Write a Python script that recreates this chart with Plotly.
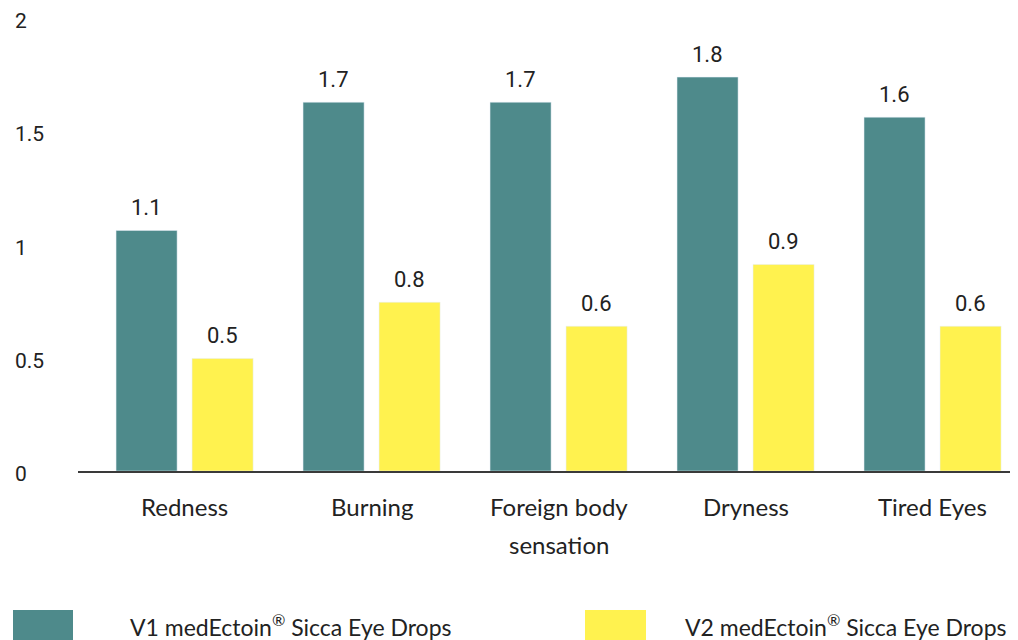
import plotly.graph_objects as go

# data
categories = ["Redness", "Burning", "Foreign body sensation", "Dryness", "Tired Eyes"]
category_lines = [["Redness"], ["Burning"], ["Foreign body", "sensation"], ["Dryness"], ["Tired Eyes"]]
v1_values = [1.062, 1.628, 1.628, 1.739, 1.562]
v2_values = [0.497, 0.745, 0.639, 0.912, 0.639]
v1_labels = ["1.1", "1.7", "1.7", "1.8", "1.6"]
v2_labels = ["0.5", "0.8", "0.6", "0.9", "0.6"]
y_ticks = [0, 0.5, 1, 1.5, 2]
y_tick_labels = ["0", "0.5", "1", "1.5", "2"]
series_names = [
    "V1 medEctoin<sup>®</sup> Sicca Eye Drops",
    "V2 medEctoin<sup>®</sup> Sicca Eye Drops",
]

TEAL = "#4e8a8b"
YELLOW = "#fff24f"
TEXT = "#222222"
NUM_FONT = "Roboto"
WORD_FONT = "Lato"

# the page body has an 8px margin, so the figure is drawn 8px smaller
OFF = 8
W, H = 1018 - OFF, 640 - OFF
L, T, B = 70, 10, 169
PW = W - L
PH = H - T - B


def px_x(p):
    # p is a pixel position in the browser window
    return (p - OFF - L) / PW


def px_y(p):
    return (H - B - (p - OFF)) / PH


fig = go.Figure()
fig.add_trace(go.Bar(x=categories, y=v1_values, marker_color=TEAL, name="V1", hoverinfo="skip"))
fig.add_trace(go.Bar(x=categories, y=v2_values, marker_color=YELLOW, name="V2", hoverinfo="skip"))

annotations = []
shift = 38
for vals, labels, dx in [(v1_values, v1_labels, -shift), (v2_values, v2_labels, shift)]:
    for cat, v, lab in zip(categories, vals, labels):
        annotations.append(dict(
            x=cat, y=v, xref="x", yref="y", text=lab, showarrow=False,
            xshift=dx, yshift=23, yanchor="middle",
            font=dict(family=NUM_FONT, size=22, color=TEXT),
        ))

for val, lab in zip(y_ticks, y_tick_labels):
    annotations.append(dict(
        x=px_x(13), y=val, xref="paper", yref="y", text=lab, showarrow=False,
        xanchor="left", yanchor="middle", yshift=-3,
        font=dict(family=NUM_FONT, size=21, color=TEXT),
    ))

for cat, lines in zip(categories, category_lines):
    for i, line in enumerate(lines):
        annotations.append(dict(
            x=cat, y=px_y(506 + 38 * i), xref="x", yref="paper", text=line,
            showarrow=False, xanchor="center", yanchor="middle",
            font=dict(family=WORD_FONT, size=24, color=TEXT),
        ))

# legend drawn by hand
shapes = []
for (x0, x1, tx), color, name in zip([(13, 73, 128), (585, 646, 683)], [TEAL, YELLOW], series_names):
    shapes.append(dict(
        type="rect", xref="paper", yref="paper",
        x0=px_x(x0), x1=px_x(x1), y0=px_y(642), y1=px_y(610),
        fillcolor=color, line_width=0,
    ))
    annotations.append(dict(
        x=px_x(tx), y=px_y(625), xref="paper", yref="paper", text=name,
        showarrow=False, xanchor="left", yanchor="middle",
        font=dict(family=WORD_FONT, size=23, color=TEXT),
    ))

fig.update_layout(
    width=W, height=H,
    margin=dict(l=L, r=0, t=T, b=B),
    paper_bgcolor="white", plot_bgcolor="white",
    barmode="group", bargap=0.187, bargroupgap=0.197,
    showlegend=False,
    annotations=annotations, shapes=shapes,
)
fig.update_xaxes(
    range=[-0.57, 4.457], showticklabels=False, showgrid=False,
    showline=True, linecolor="#3a3a3a", linewidth=1.5, ticks="",
)
fig.update_yaxes(range=[0, 2], showticklabels=False, showgrid=False, zeroline=False, showline=False)

fig.write_html("out.html")
